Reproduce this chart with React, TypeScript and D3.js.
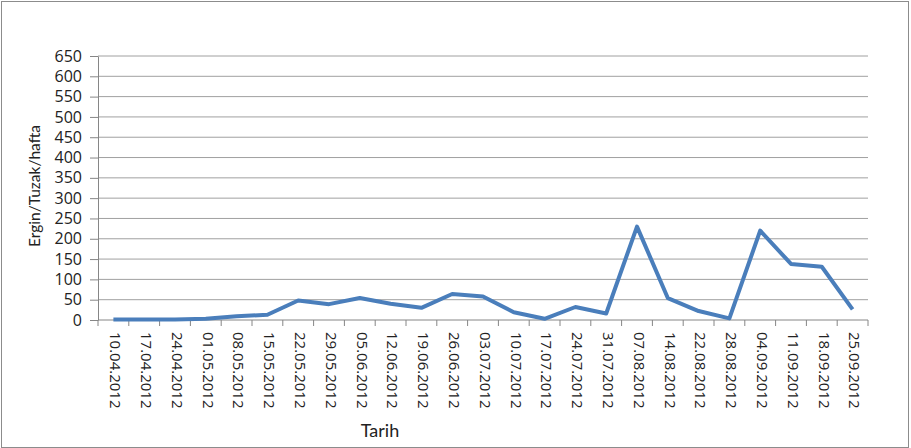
// App.tsx
import React, {useEffect, useRef} from "react";
import * as d3 from "d3";

const dates = [
    "10.04.2012", "17.04.2012", "24.04.2012", "01.05.2012", "08.05.2012", "15.05.2012",
    "22.05.2012", "29.05.2012", "05.06.2012", "12.06.2012", "19.06.2012", "26.06.2012",
    "03.07.2012", "10.07.2012", "17.07.2012", "24.07.2012", "31.07.2012", "07.08.2012",
    "14.08.2012", "22.08.2012", "28.08.2012", "04.09.2012", "11.09.2012", "18.09.2012",
    "25.09.2012",
];

const counts = [
    1, 1, 1, 3, 9, 13,
    48, 39, 54, 40, 30, 64,
    58, 19, 3, 32, 16, 230,
    54, 22, 4, 220, 138, 131,
    26,
];

const yTicks = d3.range(0, 651, 50);

const width = 911;
const height = 448;

const App: React.FC = () => {
    const svgRef = useRef<SVGSVGElement | null>(null);

    useEffect(() => {
        if (!svgRef.current) return;
        const svgEl = d3.select(svgRef.current);
        svgEl.selectAll("*").remove();

        const font = "'Open Sans', Lato, sans-serif";
        const titleFont = "Lato, 'Open Sans', sans-serif";
        const left = 98, right = 868, top = 56, bottom = 320;

        // chart frame
        svgEl.append("rect")
            .attr("x", 1.5).attr("y", 1.5)
            .attr("width", width - 4).attr("height", height - 2)
            .attr("fill", "#fff")
            .attr("stroke", "#8c8c8c")
            .attr("stroke-width", 1);

        const xScale = d3.scaleBand<string>()
            .domain(dates)
            .range([left, right]);

        const yScale = d3.scaleLinear()
            .domain([0, 650])
            .range([bottom, top]);

        // gridlines
        svgEl.append("g")
            .selectAll("line")
            .data(yTicks.filter((t) => t > 0))
            .enter()
            .append("line")
            .attr("x1", left).attr("x2", right)
            .attr("y1", (d) => yScale(d)).attr("y2", (d) => yScale(d))
            .attr("stroke", "#a0a0a0")
            .attr("stroke-width", 1);

        // y axis
        const yAxis = svgEl.append("g")
            .attr("transform", `translate(${left},0)`)
            .call(d3.axisLeft(yScale).tickValues(yTicks).tickSize(8).tickSizeOuter(0));
        yAxis.select(".domain").attr("stroke", "#868686");
        yAxis.selectAll(".tick line").attr("stroke", "#868686");
        yAxis.selectAll(".tick text")
            .attr("x", -16)
            .attr("fill", "#222")
            .style("font-family", font)
            .style("font-size", "16px");

        // x axis with ticks between categories
        const boundaries = d3.range(dates.length + 1).map((i) => left + i * xScale.bandwidth());
        svgEl.append("line")
            .attr("x1", left).attr("x2", right)
            .attr("y1", bottom).attr("y2", bottom)
            .attr("stroke", "#868686");
        svgEl.append("g")
            .selectAll("line")
            .data(boundaries)
            .enter()
            .append("line")
            .attr("x1", (d) => d).attr("x2", (d) => d)
            .attr("y1", bottom).attr("y2", bottom + 6)
            .attr("stroke", "#868686");

        svgEl.append("g")
            .selectAll("text")
            .data(dates)
            .enter()
            .append("text")
            .attr("transform", (d) => `translate(${xScale(d)! + xScale.bandwidth() / 2 + 2},${bottom + 12}) rotate(90)`)
            .attr("dy", "0.35em")
            .attr("text-anchor", "start")
            .attr("fill", "#222")
            .style("font-family", font)
            .style("font-size", "15px")
            .text((d) => d);

        // axis titles
        svgEl.append("text")
            .attr("transform", `translate(40,186) rotate(-90)`)
            .attr("text-anchor", "middle")
            .attr("fill", "#222")
            .style("font-family", titleFont)
            .style("font-size", "15.5px")
            .text("Ergin/Tuzak/hafta");

        svgEl.append("text")
            .attr("x", 380)
            .attr("y", 437)
            .attr("text-anchor", "middle")
            .attr("fill", "#222")
            .style("font-family", titleFont)
            .style("font-size", "18px")
            .text("Tarih");

        // series line
        const line = d3.line<number>()
            .x((_, i) => xScale(dates[i])! + xScale.bandwidth() / 2)
            .y((d) => yScale(d));

        svgEl.append("path")
            .datum(counts)
            .attr("d", line)
            .attr("fill", "none")
            .attr("stroke", "#4a7ebb")
            .attr("stroke-width", 4)
            .attr("stroke-linejoin", "round");
    }, []);

    return (
        <svg
            ref={svgRef}
            width={width}
            height={height}
            style={{position: "absolute", left: 0, top: 0, display: "block"}}
        />
    );
};

export default App;
